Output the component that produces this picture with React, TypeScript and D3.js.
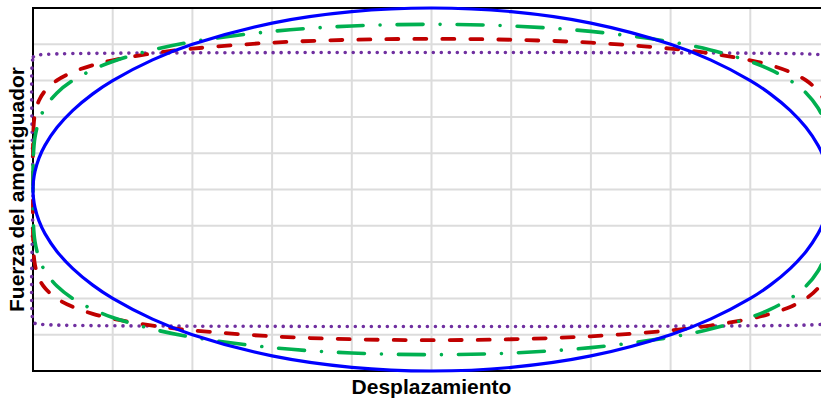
import React from "react";
import * as d3 from "d3";

// Displacement sample positions (normalised, right half; mirrored for left half)
const dispPts = [0, 0.2, 0.4, 0.6, 0.7, 0.8, 0.85, 0.9, 0.94, 0.97, 0.985, 0.995, 0.999, 1];

// Upper-branch damper force read at those displacements (lower branch is the mirror)
const forceBlue = [1.0, 0.98, 0.917, 0.8, 0.714, 0.6, 0.527, 0.436, 0.341, 0.243, 0.173, 0.1, 0.045, 0];
const forceGreen = [0.91, 0.901, 0.871, 0.814, 0.769, 0.705, 0.66, 0.601, 0.532, 0.449, 0.378, 0.288, 0.192, 0];
const forceRed = [0.83, 0.825, 0.809, 0.776, 0.75, 0.712, 0.685, 0.647, 0.601, 0.543, 0.49, 0.416, 0.327, 0];
const forcePurple = [0.755, 0.755, 0.754, 0.753, 0.752, 0.751, 0.75, 0.749, 0.747, 0.744, 0.742, 0.738, 0.731, 0];

const gridTicks = [-1, -0.8, -0.6, -0.4, -0.2, 0, 0.2, 0.4, 0.6, 0.8, 1];

const seriesNames = ["purple", "red", "green", "blue"];
const seriesForces = [forcePurple, forceRed, forceGreen, forceBlue];

const styles: Record<string, { color: string; width: number; dash: string }> = {
  blue: { color: "#0000ff", width: 3.2, dash: "none" },
  green: { color: "#00b050", width: 3.6, dash: "26 17 0.01 17" },
  red: { color: "#c00000", width: 3.8, dash: "12 16" },
  purple: { color: "#7030a0", width: 3.6, dash: "0.01 8" },
};

const W = 821;
const H = 401;
const left = 33;
const right = 830;
const top = 8;
const bottom = 371;

function loopPoints(f: number[]): [number, number][] {
  const pts: [number, number][] = [];
  // upper branch from -1 to 1
  for (let i = dispPts.length - 1; i >= 1; i--) pts.push([-dispPts[i], f[i]]);
  for (let i = 0; i < dispPts.length; i++) pts.push([dispPts[i], f[i]]);
  // lower branch from 1 back to -1 (excluding end points)
  for (let i = dispPts.length - 2; i >= 1; i--) pts.push([dispPts[i], -f[i]]);
  for (let i = 0; i < dispPts.length - 1; i++) pts.push([-dispPts[i], -f[i]]);
  return pts;
}

export default function App() {
  const x = d3.scaleLinear().domain([-1, 1]).range([left, right]);
  const y = d3.scaleLinear().domain([-1, 1]).range([bottom, top]);
  const line = d3
    .line<[number, number]>()
    .x((d) => x(d[0]))
    .y((d) => y(d[1]))
    .curve(d3.curveCatmullRomClosed.alpha(0.5));

  return (
    <svg
      width={W}
      height={H}
      style={{ position: "absolute", left: 0, top: 0, background: "#fff" }}
    >
      <g>
        {gridTicks.map((t) => (
          <line key={"vx" + t} x1={x(t)} x2={x(t)} y1={top} y2={bottom} stroke="#dcdcdc" strokeWidth={2} />
        ))}
        {gridTicks.map((t) => (
          <line key={"hy" + t} x1={left} x2={right} y1={y(t)} y2={y(t)} stroke="#dcdcdc" strokeWidth={2} />
        ))}
      </g>
      <rect x={left} y={top} width={right - left} height={bottom - top} fill="none" stroke="#000" strokeWidth={2} />
      {seriesNames.map((name, i) => {
        const s = styles[name];
        return (
          <path
            key={name}
            d={line(loopPoints(seriesForces[i])) || ""}
            fill="none"
            stroke={s.color}
            strokeWidth={s.width}
            strokeDasharray={s.dash}
            strokeLinecap="round"
            strokeLinejoin="round"
          />
        );
      })}
      <text
        x={(left + right) / 2}
        y={394}
        textAnchor="middle"
        fontFamily="'Liberation Sans', Arial, sans-serif"
        fontWeight="bold"
        fontSize={21}
        fill="#000"
      >
        Desplazamiento
      </text>
      <text
        transform={`translate(24, ${(top + bottom) / 2}) rotate(-90)`}
        textAnchor="middle"
        fontFamily="'Liberation Sans', Arial, sans-serif"
        fontWeight="bold"
        fontSize={21}
        fill="#000"
      >
        Fuerza del amortiguador
      </text>
    </svg>
  );
}
